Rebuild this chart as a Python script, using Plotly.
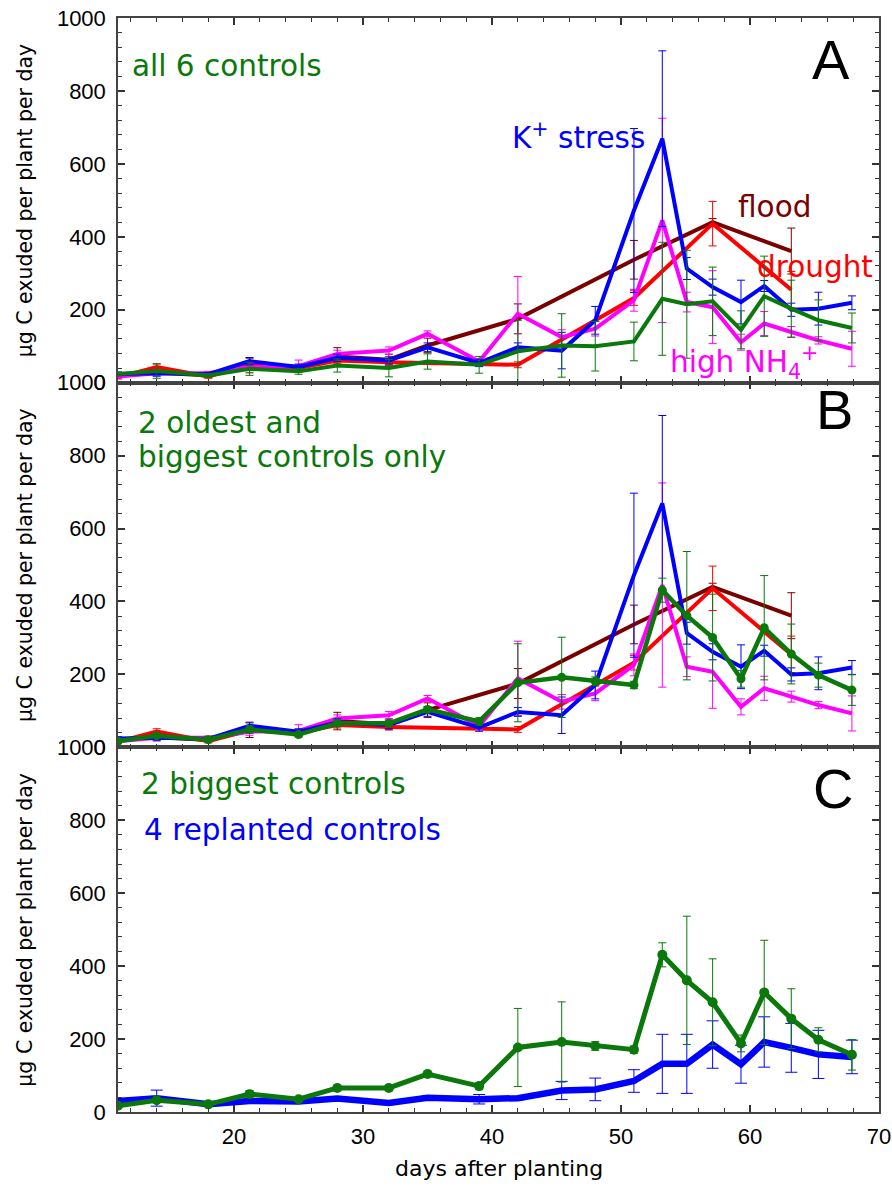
import plotly.graph_objects as go
from plotly.subplots import make_subplots

# ---------------- data ----------------
days = [11, 14, 18, 21.2, 25, 28, 32, 35, 39, 42, 45.4, 48, 51, 53.2, 55.1, 57.1, 59.3, 61.1, 63.2, 65.3, 67.9]

ctrl_all6 = [24, 32, 20, 38, 31, 47, 40, 58, 49, 86, 102, 100, 113, 230, 215, 223, 145, 237, 203, 171, 150]
ctrl_all6_err = [5, 20, 5, 18, 8, 18, 24, 21, 23, 85, 87, 68, 53, 155, 148, 94, 52, 110, 78, 56, 41]

k_stress = [24, 26, 23, 59, 43, 68, 61, 97, 54, 97, 88, 171, 472, 669, 313, 262, 221, 265, 200, 203, 219]
k_stress_err = [5, 8, 5, 10, 8, 10, 10, 12, 10, 12, 50, 38, 225, 241, 30, 22, 60, 15, 18, 45, 19]

high_nh4 = [17, 26, 26, 43, 45, 79, 88, 134, 58, 189, 125, 148, 226, 445, 221, 207, 111, 162, 139, 116, 93]
high_nh4_err = [5, 8, 5, 10, 17, 10, 10, 8, 8, 102, 20, 20, 30, 280, 27, 100, 22, 33, 15, 10, 48]

drought_days = [11, 14, 18, 21.2, 25, 28, 32, 42, 51, 57.1, 63.2]
drought = [15, 43, 17, 47, 40, 61, 56, 49, 232, 436, 255]
drought_err = [5, 8, 5, 8, 8, 8, 8, 8, 20, 61, 50]

flood_days = [11, 14, 18, 21.2, 25, 28, 32, 35, 42, 51, 57.1, 63.2]
flood = [20, 28, 20, 47, 40, 72, 63, 102, 175, 337, 440, 361]
flood_err = [5, 5, 5, 20, 8, 24, 15, 20, 41, 53, 10, 63]

ctrl_big2 = [17, 32, 21, 49, 35, 66, 66, 104, 71, 177, 192, 181, 171, 431, 361, 301, 188, 328, 256, 198, 157]
ctrl_big2_err = [5, 6, 5, 10, 5, 8, 8, 8, 10, 107, 110, 12, 10, 33, 176, 119, 23, 143, 82, 33, 42]

replanted = [30, 38, 21, 30, 29, 37, 25, 39, 35, 38, 59, 62, 85, 132, 132, 185, 131, 192, 176, 158, 151]
replanted_err = [5, 22, 5, 5, 5, 5, 5, 5, 13, 5, 25, 31, 31, 81, 81, 65, 52, 69, 67, 66, 46]

x_ticks = [20, 30, 40, 50, 60, 70]
y_ticks = [0, 200, 400, 600, 800, 1000]

# ---------------- style ----------------
BLUE = "#0000ff"
MAG = "#ff00ff"
RED = "#ff0000"
BROWN = "#7a0000"
GREEN = "#0a780a"
TXT = "DejaVu Sans"
NUM = "Liberation Sans"

fig = make_subplots(rows=3, cols=1, shared_xaxes=True, vertical_spacing=0)


def line(x, y, err, color, row, width=4, marker=False, msize=9, cap=4):
    fig.add_trace(go.Scatter(
        x=x, y=y,
        mode="lines+markers" if marker else "lines",
        line=dict(color=color, width=width),
        marker=dict(size=msize, color=color),
        error_y=dict(type="data", array=err, visible=True, thickness=1,
                     width=cap, color=color),
        showlegend=False, hoverinfo="skip"), row=row, col=1)


# Panel A
line(flood_days, flood, flood_err, BROWN, 1)
line(drought_days, drought, drought_err, RED, 1)
line(days, high_nh4, high_nh4_err, MAG, 1)
line(days, k_stress, k_stress_err, BLUE, 1)
line(days, ctrl_all6, ctrl_all6_err, GREEN, 1)

# Panel B
line(flood_days, flood, flood_err, BROWN, 2)
line(drought_days, drought, drought_err, RED, 2)
line(days, high_nh4, high_nh4_err, MAG, 2)
line(days, k_stress, k_stress_err, BLUE, 2)
line(days, ctrl_big2, ctrl_big2_err, GREEN, 2, width=4.5, marker=True, msize=9)

# Panel C
line(days, replanted, replanted_err, BLUE, 3, width=6.5, cap=6)
line(days, ctrl_big2, ctrl_big2_err, GREEN, 3, width=5, marker=True, msize=10)

axis_common = dict(
    ticks="inside", tickcolor="#333", tickwidth=1.5, ticklen=7,
    showline=True, linecolor="#444", linewidth=1.5, mirror="allticks",
    showgrid=False, zeroline=False, automargin=False,
    tickfont=dict(family=NUM, size=22, color="black"),
)

for i in range(1, 4):
    xa = "xaxis" if i == 1 else f"xaxis{i}"
    ya = "yaxis" if i == 1 else f"yaxis{i}"
    fig.layout[xa].update(
        range=[11, 70], tickvals=x_ticks, showticklabels=(i == 3),
        minor=dict(dtick=2, tick0=0, ticks="inside", ticklen=4, tickcolor="#333", tickwidth=1),
        ticklabelstandoff=4, **axis_common)
    fig.layout[ya].update(
        range=[0, 1000], tickvals=y_ticks,
        minor=dict(dtick=40, tick0=0, ticks="inside", ticklen=4, tickcolor="#333", tickwidth=1),
        ticklabelstandoff=6, **axis_common)

anns = []


def note(text, x, y, row, color, size=29.5, family=TXT, xanchor="left"):
    s = "" if row == 1 else str(row)
    anns.append(dict(text=text, x=x, y=y, xref="x" + s, yref="y" + s,
                     xanchor=xanchor, yanchor="middle", showarrow=False,
                     font=dict(family=family, size=size, color=color)))


note("all 6 controls", 11.93, 869, 1, GREEN)
note("K<sup>+</sup> stress", 41.39, 677, 1, BLUE)
note("flood", 58.91, 482, 1, BROWN)
note("drought", 60.38, 317, 1, RED)
note("high NH<sub>4</sub><sup>+</sup>", 53.64, 54, 1, MAG)
note("A", 66.27, 887, 1, "black", size=56, family=NUM, xanchor="center")

note("2 oldest and", 12.40, 889, 2, GREEN)
note("biggest controls only", 12.40, 796, 2, GREEN)
note("B", 66.58, 926, 2, "black", size=56, family=NUM, xanchor="center")

note("2 biggest controls", 12.63, 899, 3, GREEN)
note("4 replanted controls", 12.86, 773, 3, BLUE)
note("C", 66.43, 886, 3, "black", size=56, family=NUM, xanchor="center")

ytitle = "µg C exuded per plant per day"
for yc in [5 / 6, 1 / 2, 1 / 6]:
    anns.append(dict(text=ytitle, x=-0.1222, y=yc, xref="paper", yref="paper",
                     xanchor="center", yanchor="middle", textangle=-90, showarrow=False,
                     font=dict(family=TXT, size=20.5, color="black")))

anns.append(dict(text="days after planting", x=0.5, y=-0.0515, xref="paper", yref="paper",
                 xanchor="center", yanchor="middle", showarrow=False,
                 font=dict(family=TXT, size=22, color="black")))

fig.update_layout(
    width=892, height=1187,
    margin=dict(l=118, r=13, t=18, b=75),
    paper_bgcolor="white", plot_bgcolor="white",
    annotations=anns, showlegend=False,
)

fig.write_html("out.html")
